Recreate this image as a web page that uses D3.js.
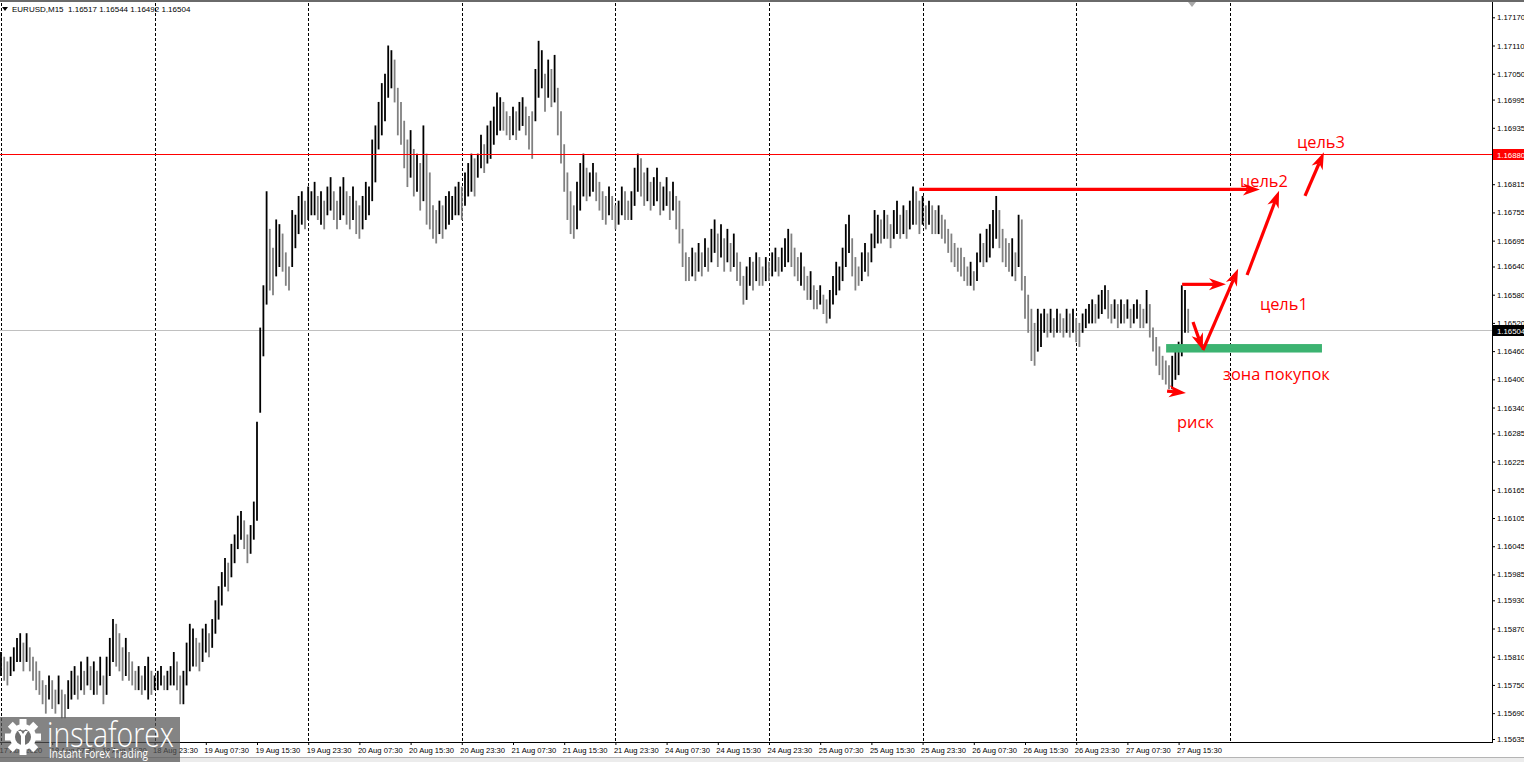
<!DOCTYPE html>
<html><head><meta charset="utf-8">
<script src="https://cdn.jsdelivr.net/npm/d3@7"></script>
<style>html,body{margin:0;padding:0;background:#fff;overflow:hidden}</style>
</head><body><svg id="c" width="1524" height="762"></svg>
<script>
// ---------- data ----------
const symbolTitle = "EURUSD,M15  1.16517 1.16544 1.16492 1.16504";
const timeLabels = ["17 Aug 2020","18 Aug 07:30","18 Aug 15:30","18 Aug 23:30","19 Aug 07:30","19 Aug 15:30",
  "19 Aug 23:30","20 Aug 07:30","20 Aug 15:30","20 Aug 23:30","21 Aug 07:30","21 Aug 15:30","21 Aug 23:30",
  "24 Aug 07:30","24 Aug 15:30","24 Aug 23:30","25 Aug 07:30","25 Aug 15:30","25 Aug 23:30","26 Aug 07:30",
  "26 Aug 15:30","26 Aug 23:30","27 Aug 07:30","27 Aug 15:30"];
const priceTicks = [1.17170,1.17110,1.17050,1.16995,1.16935,1.16875,1.16815,1.16755,1.16695,1.16640,1.16580,
  1.16520,1.16460,1.16400,1.16340,1.16285,1.16225,1.16165,1.16105,1.16045,1.15985,1.15930,1.15870,1.15810,
  1.15750,1.15690,1.15635];
const highs = [
 1.1582,1.1581,1.1580,1.1581,1.1583,1.1585,1.1586,1.1584,1.1586,1.1583,1.1581,1.1580,1.1578,
 1.1576,1.1575,1.1577,1.1576,1.1574,1.1577,1.1574,1.1573,1.1576,1.1578,
 1.1579,1.1577,1.1580,1.1578,1.1581,1.1579,1.1580,1.1578,1.1581,1.1577,1.1581,
 1.1585,1.1589,1.1588,1.1586,1.1583,1.1585,1.1582,
 1.1580,1.1578,1.1579,1.1577,1.1579,1.1581,1.1578,1.1577,
 1.1578,1.1579,1.1577,1.1578,1.1579,1.1582,1.1580,1.1577,
 1.1578,1.1584,1.1588,1.1587,1.1585,1.1584,1.1587,1.1588,1.1586,1.1589,1.1593,1.1596,1.1599,1.1602,1.1601,1.1605,1.1607,1.1611,1.1612,1.1610,1.1607,1.1609,
 1.1614,1.1631,1.1651,1.1660,1.1680,1.1672,1.1668,1.1674,1.1673,1.1671,1.1667,1.1664,1.1676,1.1675,1.1679,1.1680,1.1678,1.1681,1.1680,1.1682,1.1679,
 1.1680,1.1678,1.1681,1.1683,1.1680,1.1678,1.1681,1.1683,1.1680,1.1679,1.1681,1.1678,1.1677,1.1679,1.1682,1.1681,
 1.1691,1.1694,1.1699,1.1703,1.1705,1.1711,1.1710,1.1708,1.1702,1.1699,1.1695,1.1691,1.1693,1.1689,1.1688,
 1.1686,1.1694,1.1688,1.1684,1.1677,1.1676,1.1678,1.1677,1.1679,1.1680,1.1679,1.1681,1.1682,1.1681,
 1.1684,1.1686,1.1688,1.1687,1.1688,1.1692,1.1690,1.1694,1.1695,1.1698,1.1701,1.1700,
 1.1699,1.1697,1.1696,1.1698,1.1697,1.1699,1.1700,1.1698,1.1696,1.1697,
 1.1706,1.1712,1.1710,1.1705,1.1708,1.1706,1.1709,1.1702,1.1697,
 1.1690,1.1684,1.1680,1.1677,1.1682,1.1686,1.1688,1.1685,1.1684,1.1686,1.1684,1.1682,1.1680,1.1679,1.1681,1.1679,1.1677,1.1678,1.1681,1.1680,1.1678,
 1.1680,1.1685,1.1688,1.1687,1.1684,1.1685,1.1682,1.1683,1.1685,1.1682,1.1681,1.1683,1.1680,1.1682,1.1679,1.1678,
 1.1672,1.1667,1.1666,1.1668,1.1667,1.1669,1.1667,1.1670,1.1668,1.1672,1.1674,1.1671,1.1673,1.1670,1.1672,1.1669,1.1671,1.1667,1.1665,
 1.1662,1.1664,1.1666,1.1665,1.1667,1.1666,1.1664,1.1666,1.1665,1.1667,1.1668,1.1666,1.1668,1.1670,1.1672,1.1671,1.1668,1.1666,1.1667,
 1.1664,1.1662,1.1663,1.1660,1.1659,1.1660,1.1658,1.1657,1.1659,1.1662,1.1665,1.1664,1.1668,1.1673,1.1675,1.1670,1.1666,1.1664,1.1667,1.1669,1.1667,
 1.1671,1.1676,1.1675,1.1674,1.1676,1.1675,1.1673,1.1676,1.1678,1.1675,1.1677,1.1676,1.1678,1.1681,1.1680,1.1678,1.1679,1.1677,1.1678,1.1677,1.1676,1.1677,1.1675,1.1674,1.1672,
 1.1671,1.1669,1.1668,1.1668,1.1666,1.1664,1.1665,1.1663,1.1667,1.1671,1.1669,1.1672,1.1673,1.1676,1.1679,1.1676,
 1.1672,1.1670,1.1669,1.1670,1.1667,1.1675,1.1674,1.1662,1.1658,1.1655,1.1652,1.1655,1.1654,
 1.1655,1.1654,1.1655,1.1653,1.1655,1.1654,1.1653,1.1655,1.1654,1.1655,1.1653,1.1652,1.1654,1.1655,1.1656,1.1657,1.1656,1.1658,1.1659,1.1660,
 1.1659,1.1656,1.1657,1.1656,1.1657,1.1656,1.1657,1.1655,1.1656,1.1657,1.1656,1.1655,1.1659,1.1656,1.1651,1.1649,1.1647,1.1645,1.1644,1.1643,1.1645,1.1646,1.1648,1.1660,1.1659,1.1655];
const lows = [
 1.1577,1.1576,1.1575,1.1577,1.1578,1.1580,1.1580,1.1578,1.1580,1.1578,1.1576,1.1574,1.1573,
 1.1571,1.1569,1.1572,1.1570,1.1569,1.1571,1.1568,1.1568,1.1570,1.1572,
 1.1573,1.1572,1.1574,1.1573,1.1575,1.1574,1.1573,1.1573,1.1575,1.1571,1.1573,
 1.1577,1.1580,1.1579,1.1578,1.1576,1.1577,1.1576,
 1.1575,1.1574,1.1574,1.1573,1.1574,1.1572,1.1573,1.1574,
 1.1574,1.1575,1.1574,1.1574,1.1575,1.1575,1.1574,1.1571,
 1.1571,1.1575,1.1578,1.1579,1.1579,1.1578,1.1580,1.1582,1.1581,1.1583,1.1586,1.1589,1.1592,1.1596,1.1595,1.1598,1.1601,1.1604,1.1606,1.1604,1.1601,1.1603,
 1.1606,1.1610,1.1633,1.1645,1.1656,1.1659,1.1658,1.1662,1.1664,1.1663,1.1660,1.1659,1.1664,1.1668,1.1671,1.1673,1.1672,1.1674,1.1675,1.1675,1.1674,
 1.1673,1.1672,1.1675,1.1676,1.1674,1.1672,1.1674,1.1675,1.1673,1.1672,1.1674,1.1671,1.1670,1.1672,1.1674,1.1675,
 1.1678,1.1682,1.1689,1.1692,1.1695,1.1700,1.1702,1.1699,1.1692,1.1690,1.1685,1.1681,1.1683,1.1679,1.1680,
 1.1676,1.1678,1.1673,1.1672,1.1670,1.1669,1.1671,1.1670,1.1672,1.1673,1.1674,1.1675,1.1675,1.1674,
 1.1677,1.1679,1.1680,1.1679,1.1683,1.1685,1.1684,1.1686,1.1687,1.1690,1.1692,1.1693,
 1.1693,1.1692,1.1691,1.1692,1.1691,1.1693,1.1694,1.1692,1.1689,1.1687,
 1.1695,1.1700,1.1702,1.1697,1.1700,1.1698,1.1699,1.1692,1.1686,
 1.1680,1.1674,1.1671,1.1670,1.1672,1.1676,1.1679,1.1678,1.1679,1.1680,1.1678,1.1676,1.1674,1.1673,1.1675,1.1674,1.1672,1.1673,1.1675,1.1674,1.1674,
 1.1674,1.1677,1.1680,1.1679,1.1677,1.1678,1.1676,1.1677,1.1678,1.1675,1.1676,1.1677,1.1674,1.1676,1.1672,1.1669,
 1.1664,1.1661,1.1661,1.1662,1.1661,1.1663,1.1662,1.1664,1.1663,1.1665,1.1667,1.1664,1.1666,1.1663,1.1665,1.1663,1.1664,1.1661,1.1660,
 1.1656,1.1657,1.1660,1.1659,1.1661,1.1660,1.1660,1.1661,1.1661,1.1662,1.1663,1.1662,1.1663,1.1664,1.1665,1.1664,1.1662,1.1661,1.1660,
 1.1659,1.1657,1.1657,1.1655,1.1655,1.1656,1.1654,1.1652,1.1653,1.1656,1.1658,1.1659,1.1661,1.1664,1.1667,1.1662,1.1659,1.1660,1.1661,1.1663,1.1662,
 1.1665,1.1668,1.1669,1.1669,1.1670,1.1670,1.1668,1.1670,1.1671,1.1670,1.1671,1.1670,1.1672,1.1673,1.1673,1.1671,1.1673,1.1672,1.1673,1.1671,1.1671,1.1671,1.1670,1.1669,1.1667,
 1.1665,1.1664,1.1663,1.1662,1.1661,1.1660,1.1660,1.1659,1.1661,1.1665,1.1664,1.1665,1.1666,1.1668,1.1670,1.1668,
 1.1665,1.1664,1.1663,1.1662,1.1661,1.1664,1.1659,1.1653,1.1650,1.1644,1.1643,1.1646,1.1647,
 1.1650,1.1649,1.1650,1.1649,1.1650,1.1650,1.1649,1.1650,1.1649,1.1650,1.1648,1.1647,1.1650,1.1651,1.1652,1.1652,1.1652,1.1653,1.1654,1.1655,
 1.1653,1.1652,1.1653,1.1651,1.1652,1.1652,1.1653,1.1651,1.1652,1.1653,1.1651,1.1651,1.1652,1.1649,1.1646,1.1643,1.1641,1.1640,1.1639,1.1638,1.1638,1.1640,1.1641,1.1645,1.1650,1.1650];
const resistanceLevel = 1.16880;
const lastPrice = 1.16504;
// buy zone: [fromBar, toBar, lowPrice, highPrice]
const buyZone = [364.1, 412.8, 1.16457, 1.16475];
// arrows: [fromBar, fromPrice, toBar, toPrice]
const arrowsData = [
  [287.0, 1.16804, 393.4, 1.16804],
  [369.1, 1.16602, 382.8, 1.16602],
  [372.5, 1.16522, 375.6, 1.16462],
  [375.6, 1.16462, 386.6, 1.16635],
  [389.4, 1.16622, 399.4, 1.16801],
  [407.5, 1.16790, 413.4, 1.16883],
  [364.4, 1.16375, 370.3, 1.16371]
];
const noteTexts = ["цель3","цель2","цель1","зона покупок","риск"];
const noteBars = [405.0, 387.2, 393.4, 381.9, 367.5];
const notePrices = [1.16892, 1.16809, 1.16547, 1.16399, 1.16296];

// ---------- drawing ----------
const svg = d3.select("#c");
const W = 1524, H = 762, axisX = 1492, axisY = 742;
const barsPerLabel = 16, barsPerGrid = 48;
const x = d3.scaleLinear().domain([0, 384]).range([1, 1229.8]);
const y = d3.scaleLinear().domain([1.15635, 1.17170]).range([739, 17.3]);
const red = "#ff0000";
const crisp = v => Math.round(v) + 0.5;

svg.append("rect").attr("width", W).attr("height", H).attr("fill", "#fff");

// grid
svg.append("g").selectAll("line").data(d3.range(0, 385, barsPerGrid)).join("line")
  .attr("x1", d => crisp(x(d))).attr("x2", d => crisp(x(d)))
  .attr("y1", 3).attr("y2", axisY)
  .attr("stroke", "#000").attr("stroke-width", 1).attr("stroke-dasharray", "3,2");

// last price line
svg.append("line").attr("x1", 0).attr("x2", axisX).attr("y1", crisp(y(lastPrice))).attr("y2", crisp(y(lastPrice)))
  .attr("stroke", "#c0c0c0").attr("stroke-width", 1);

// bars
const n = Math.min(highs.length, lows.length);
const bars = d3.range(n).map(i => ({i, h: highs[i], l: lows[i]}));
svg.append("g").selectAll("line").data(bars).join("line")
  .attr("x1", d => x(d.i)).attr("x2", d => x(d.i))
  .attr("y1", d => y(d.h)).attr("y2", d => y(d.l) + 0.5)
  .attr("stroke", (d, k) => {
    if (k === 0) return "#000";
    const prev = bars[k - 1];
    return (d.h + d.l) >= (prev.h + prev.l) ? "#000" : "#808080";
  })
  .attr("stroke-width", 1.8);

// resistance line
svg.append("line").attr("x1", 0).attr("x2", axisX).attr("y1", crisp(y(resistanceLevel))).attr("y2", crisp(y(resistanceLevel)))
  .attr("stroke", red).attr("stroke-width", 1);

// buy zone
svg.append("rect").attr("x", x(buyZone[0])).attr("width", x(buyZone[1]) - x(buyZone[0]))
  .attr("y", y(buyZone[3])).attr("height", y(buyZone[2]) - y(buyZone[3]))
  .attr("fill", "#3cb371");

// arrows
const ag = svg.append("g");
arrowsData.forEach(a => {
  const x1 = x(a[0]), y1 = y(a[1]), x2 = x(a[2]), y2 = y(a[3]);
  const dx = x2 - x1, dy = y2 - y1, len = Math.hypot(dx, dy);
  const ux = dx / len, uy = dy / len, px = -uy, py = ux;
  const L = 17, hw = 6, notch = 5;
  const bx = x2 - ux * L, by = y2 - uy * L;
  const nx = x2 - ux * (L - notch), ny = y2 - uy * (L - notch);
  if (len > L - notch) {
    ag.append("line").attr("x1", x1).attr("y1", y1).attr("x2", nx).attr("y2", ny)
      .attr("stroke", red).attr("stroke-width", 3.2);
  }
  ag.append("path")
    .attr("d", `M${x2},${y2}L${bx + px * hw},${by + py * hw}L${nx},${ny}L${bx - px * hw},${by - py * hw}Z`)
    .attr("fill", red);
});

// notes
svg.append("g").selectAll("text").data(noteTexts).join("text")
  .attr("x", (d, k) => x(noteBars[k])).attr("y", (d, k) => y(notePrices[k]))
  .attr("font-family", "'Open Sans', 'Noto Sans', sans-serif").attr("font-size", 16.4)
  .attr("fill", red).text(d => d);

// frame
svg.append("rect").attr("x", 0).attr("y", 0).attr("width", W).attr("height", 2).attr("fill", "#6a6a6a");
svg.append("line").attr("x1", axisX + 0.5).attr("x2", axisX + 0.5).attr("y1", 2).attr("y2", axisY + 1)
  .attr("stroke", "#000");
svg.append("line").attr("x1", 0).attr("x2", axisX + 1).attr("y1", axisY + 0.5).attr("y2", axisY + 0.5)
  .attr("stroke", "#000");
// shift marker
svg.append("path").attr("d", "M1188,2L1196,2L1192,7Z").attr("fill", "#a8a8a8");

// right axis
const yAxis = d3.axisRight(y).tickValues(priceTicks).tickFormat(d3.format(".5f")).tickSize(3).tickPadding(2);
const ya = svg.append("g").attr("transform", `translate(${axisX},0)`).call(yAxis);
ya.select(".domain").remove();
ya.selectAll("text").attr("font-family", "'Liberation Sans', Arial, sans-serif").attr("font-size", 7.8).attr("fill", "#000");

// price labels
[[resistanceLevel, red], [lastPrice, "#000"]].forEach(([p, c]) => {
  svg.append("rect").attr("x", axisX + 1).attr("y", Math.round(y(p)) - 5).attr("width", W - axisX - 1).attr("height", 11).attr("fill", c);
  svg.append("text").attr("x", axisX + 5).attr("y", Math.round(y(p)) + 3.5)
    .attr("font-family", "'Liberation Sans', Arial, sans-serif").attr("font-size", 7.8).attr("fill", "#fff")
    .text(d3.format(".5f")(p));
});

// bottom axis
const xAxis = d3.axisBottom(x).tickValues(timeLabels.map((d, j) => j * barsPerLabel))
  .tickFormat((d, j) => timeLabels[j]).tickSize(3).tickPadding(3);
const xa = svg.append("g").attr("transform", `translate(0,${axisY})`).call(xAxis);
xa.select(".domain").remove();
xa.selectAll("text").attr("text-anchor", "start").attr("dx", -2)
  .attr("font-family", "'Liberation Sans', Arial, sans-serif").attr("font-size", 7.6).attr("fill", "#000");

// bottom strip
svg.append("rect").attr("x", 0).attr("y", 757).attr("width", W).attr("height", 5).attr("fill", "#ececec");
svg.append("line").attr("x1", 0).attr("x2", W).attr("y1", 757.5).attr("y2", 757.5).attr("stroke", "#b4b4b4");

// title
svg.append("path").attr("d", "M2,7L8,7L5,11Z").attr("fill", "#000");
svg.append("text").attr("x", 12).attr("y", 12).attr("font-family", "'Liberation Sans', Arial, sans-serif")
  .attr("font-size", 8).attr("fill", "#000").attr("xml:space", "preserve").style("white-space", "pre").text(symbolTitle);

// logo watermark
const lg = svg.append("g");
lg.append("rect").attr("x", 0).attr("y", 717).attr("width", 180).attr("height", 45).attr("fill", "#555").attr("opacity", 0.72);
const gc = [23, 737];
const teeth = lg.append("g").attr("transform", `translate(${gc[0]},${gc[1]})`);
d3.range(8).forEach(k => {
  teeth.append("rect").attr("x", -3.5).attr("y", -18).attr("width", 7).attr("height", 8)
    .attr("fill", "#fff").attr("transform", `rotate(${k * 45})`);
});
teeth.append("circle").attr("r", 13).attr("fill", "#fff");
teeth.append("circle").attr("r", 8).attr("fill", "#707070");
teeth.append("path").attr("d", "M-5,-6L-2,-1L-2,8L2,8L2,-1L5,-6L2,-6L0,-3L-2,-6Z").attr("fill", "#fff");
teeth.append("circle").attr("cy", -9).attr("r", 2.5).attr("fill", "#fff");
lg.append("text").attr("x", 47).attr("y", 747).attr("font-family", "'Open Sans', sans-serif").attr("font-weight", 300)
  .attr("font-size", 35).attr("fill", "#fff").attr("textLength", 127).attr("lengthAdjust", "spacingAndGlyphs").text("instaforex");
lg.append("text").attr("x", 49).attr("y", 758).attr("font-family", "'Open Sans', sans-serif")
  .attr("font-size", 12).attr("fill", "#fff").attr("textLength", 99).attr("lengthAdjust", "spacingAndGlyphs").text("Instant Forex Trading");
</script></body></html>
